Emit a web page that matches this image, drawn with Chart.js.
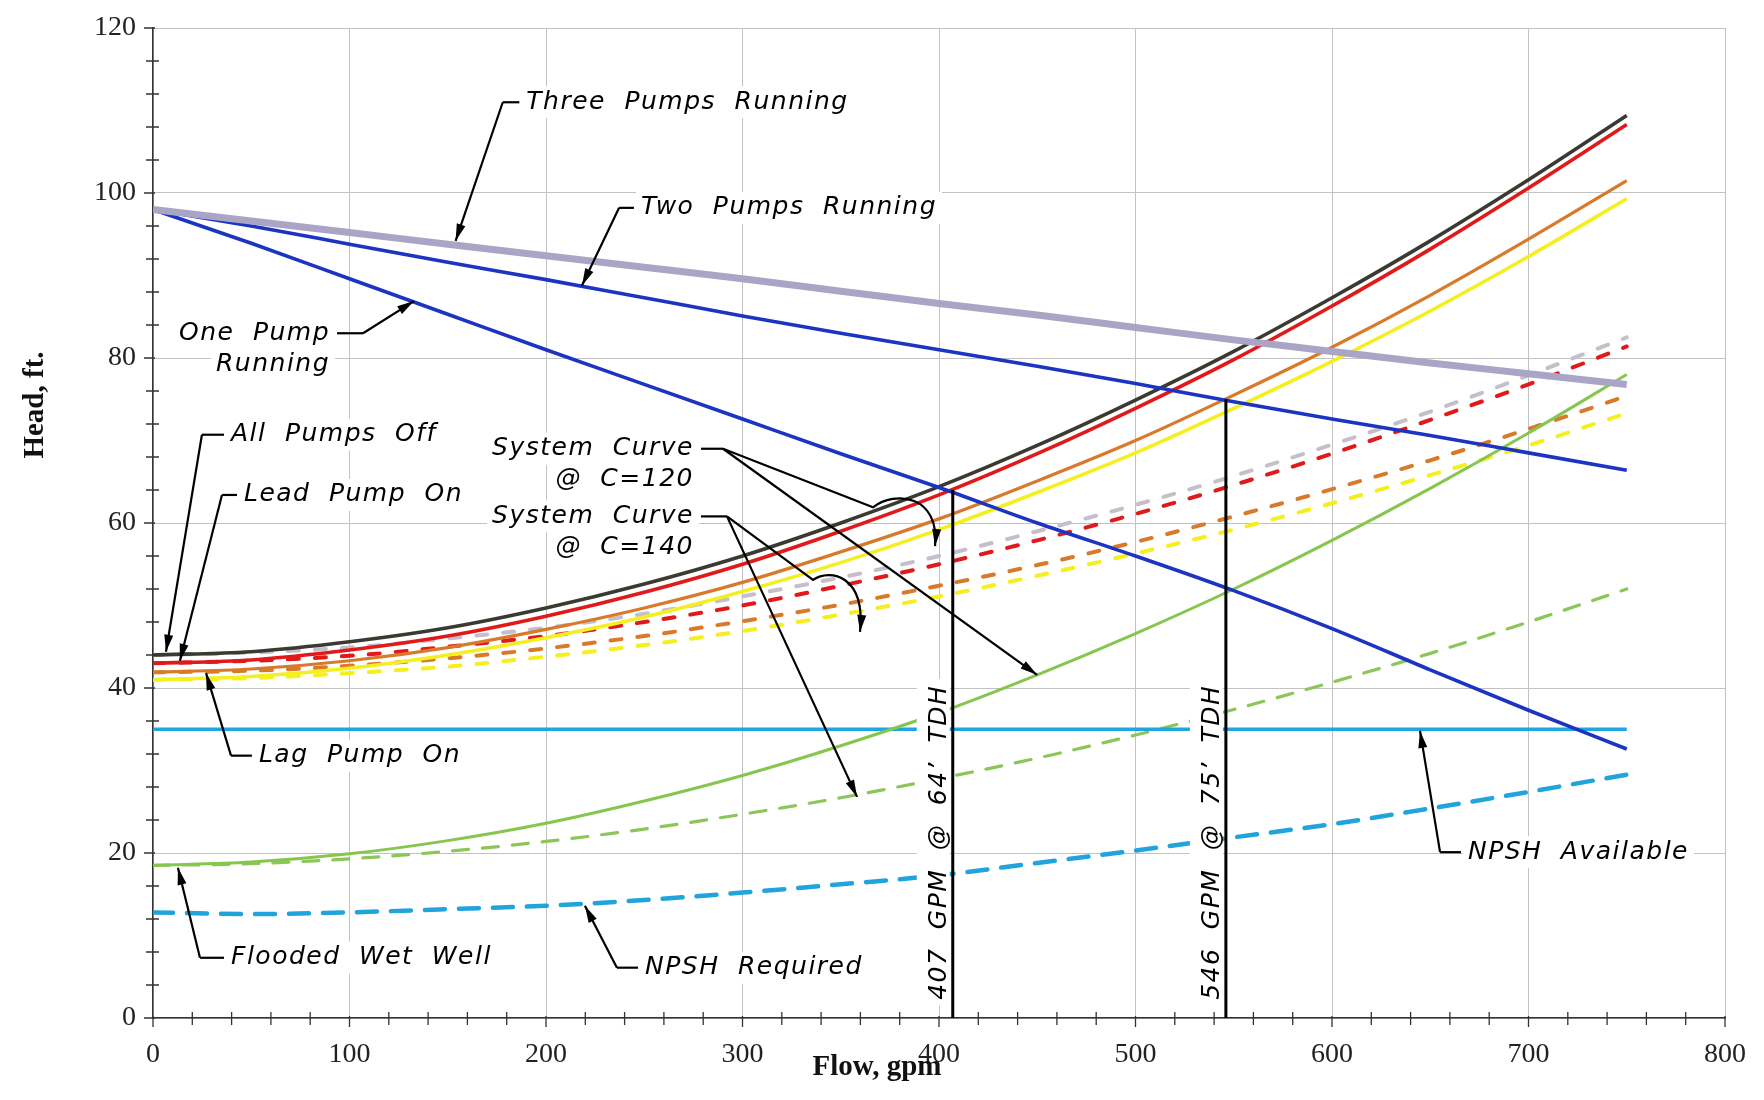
<!DOCTYPE html>
<html>
<head>
<meta charset="utf-8">
<script src="https://cdn.jsdelivr.net/npm/chart.js@4.4.0/dist/chart.umd.min.js"></script>
<style>
  html, body { margin: 0; padding: 0; background: #fff; }
  canvas { display: block; }
</style>
</head>
<body>
<canvas id="pumpChart" width="1764" height="1100"></canvas>
<script>
// === Datos (flow en gpm, head en ft) ===
const flow = [0, 50, 100, 150, 200, 250, 300, 350, 400, 450, 500, 550, 600, 650, 700, 750];

// pump curves
const threePumps = [98.0, 96.6, 95.2, 93.8, 92.4, 91.0, 89.6, 88.1, 86.6, 85.2, 83.7, 82.2, 80.8, 79.4, 78.1, 76.8];
const twoPumps   = [98.0, 96.0, 93.8, 91.6, 89.5, 87.3, 85.1, 83.0, 81.0, 79.0, 76.9, 74.7, 72.6, 70.6, 68.5, 66.4];
const onePump    = [98.0, 93.9, 89.6, 85.3, 81.0, 76.8, 72.6, 68.4, 64.3, 60.0, 56.0, 51.8, 47.2, 42.2, 37.3, 32.6];

// system curves @ C=120 (solid)
const allOff120  = [44.0, 44.4, 45.6, 47.3, 49.7, 52.6, 56.0, 60.0, 64.4, 69.4, 74.9, 80.8, 87.3, 94.2, 101.6, 109.4];
const leadOn120  = [43.0, 43.4, 44.6, 46.3, 48.7, 51.6, 55.0, 59.0, 63.4, 68.4, 73.9, 79.8, 86.3, 93.2, 100.6, 108.3];
const mid120     = [41.9, 42.3, 43.3, 44.9, 47.1, 49.7, 52.8, 56.5, 60.5, 65.1, 70.0, 75.5, 81.3, 87.6, 94.4, 101.5];
const lagOn120   = [41.0, 41.4, 42.4, 44.0, 46.1, 48.6, 51.7, 55.2, 59.2, 63.7, 68.5, 73.9, 79.6, 85.7, 92.3, 99.3];
const flooded120 = [18.5, 18.9, 19.9, 21.5, 23.6, 26.3, 29.4, 33.0, 37.0, 41.6, 46.6, 52.0, 57.9, 64.2, 70.9, 78.0];

// system curves @ C=140 (dashed)
const allOff140  = [44.0, 44.3, 44.9, 46.0, 47.3, 49.0, 51.1, 53.4, 56.0, 59.0, 62.2, 65.7, 69.5, 73.5, 77.9, 82.5];
const leadOn140  = [43.0, 43.3, 43.9, 45.0, 46.3, 48.0, 50.0, 52.4, 55.0, 57.9, 61.1, 64.6, 68.4, 72.5, 76.8, 81.4];
const mid140     = [41.9, 42.1, 42.7, 43.6, 44.8, 46.3, 48.1, 50.1, 52.4, 54.9, 57.7, 60.8, 64.1, 67.6, 71.4, 75.4];
const lagOn140   = [41.0, 41.2, 41.8, 42.6, 43.8, 45.2, 46.9, 48.9, 51.1, 53.6, 56.3, 59.2, 62.4, 65.8, 69.4, 73.3];
const flooded140 = [18.5, 18.7, 19.3, 20.2, 21.4, 22.9, 24.7, 26.7, 29.0, 31.5, 34.3, 37.4, 40.7, 44.2, 48.0, 52.0];

// NPSH
const npshRequired = [12.8, 12.6, 12.8, 13.2, 13.6, 14.3, 15.2, 16.2, 17.3, 18.8, 20.3, 21.9, 23.5, 25.4, 27.4, 29.5];
const npshAvailFlow = [0, 750];
const npshAvail     = [35, 35];

// operating points
const tdhFlow = [407, 546];
const tdhHead = [64, 75];

// axes
const flowTicks = [0, 100, 200, 300, 400, 500, 600, 700, 800];
const headTicks = [0, 20, 40, 60, 80, 100, 120];

const pts = (xs, ys) => xs.map((x, i) => ({ x: x, y: ys[i] }));

function curve(data, color, width, dash, order) {
  return {
    data: data,
    borderColor: color,
    borderWidth: width,
    borderDash: dash || [],
    borderCapStyle: dash ? "round" : "butt",
    pointRadius: 0,
    fill: false,
    cubicInterpolationMode: "monotone",
    order: order
  };
}

const sysDash = [11, 16];

const datasets = [
  // TDH verticals
  curve([{ x: tdhFlow[0], y: 0 }, { x: tdhFlow[0], y: tdhHead[0] }], "#000", 3, null, 0),
  curve([{ x: tdhFlow[1], y: 0 }, { x: tdhFlow[1], y: tdhHead[1] }], "#000", 3, null, 0),
  // pumps
  curve(pts(flow, threePumps), "#aaa4c6", 7, null, 1),
  curve(pts(flow, twoPumps), "#1b34c2", 3.6, null, 1),
  curve(pts(flow, onePump), "#1b34c2", 3.6, null, 1),
  // solid system curves
  curve(pts(flow, allOff120), "#3b3a30", 3.6, null, 2),
  curve(pts(flow, leadOn120), "#e01a1a", 3.6, null, 2),
  curve(pts(flow, mid120), "#d97a2b", 3.2, null, 2),
  curve(pts(flow, lagOn120), "#f4ef1e", 3.6, null, 2),
  curve(pts(flow, flooded120), "#86c64e", 3, null, 2),
  // NPSH
  curve(pts(npshAvailFlow, npshAvail), "#1ea6e0", 3.5, null, 3),
  curve(pts(flow, npshRequired), "#21a3dc", 4.5, [20, 14], 3),
  // dashed system curves
  curve(pts(flow, allOff140), "#c6bfcb", 4, sysDash, 4),
  curve(pts(flow, leadOn140), "#e01a1a", 4, sysDash, 4),
  curve(pts(flow, mid140), "#d97a2b", 4, sysDash, 4),
  curve(pts(flow, lagOn140), "#f4ef1e", 4, sysDash, 4),
  curve(pts(flow, flooded140), "#8cc658", 3.2, [16, 14], 4)
];

// === Anotaciones (en unidades de datos) ===
const notes = [
  { text: ["Three Pumps Running"], x: 190, y: 111, align: "left", elbow: [178, 111], tips: [[154, 94.2]] },
  { text: ["Two Pumps Running"], x: 248.3, y: 98.2, align: "left", elbow: [237.2, 98.2], tips: [[218.3, 88.8]] },
  { text: ["One Pump", "Running"], x: 90.1, y: 83.0, align: "right", elbow: [106.9, 83.0], tips: [[132.8, 86.9]] },
  { text: ["All Pumps Off"], x: 39.7, y: 70.7, align: "left", elbow: [24.9, 70.7], tips: [[6.6, 44.4]] },
  { text: ["Lead Pump On"], x: 46.3, y: 63.4, align: "left", elbow: [35.1, 63.4], tips: [[13.7, 43.3]] },
  { text: ["Lag Pump On"], x: 53.9, y: 31.8, align: "left", elbow: [39.7, 31.8], tips: [[27.0, 41.8]] },
  { text: ["Flooded Wet Well"], x: 39.7, y: 7.3, align: "left", elbow: [23.9, 7.3], tips: [[12.7, 18.2]] },
  { text: ["NPSH Required"], x: 250.4, y: 6.1, align: "left", elbow: [236.1, 6.1], tips: [[219.8, 13.6]] },
  { text: ["NPSH Available"], x: 669.2, y: 20.1, align: "left", elbow: [655, 20.1], tips: [[644.8, 34.8]] },
  { text: ["System Curve", "@ C=120"], x: 275.3, y: 69.0, align: "right", elbow: [290.1, 69.0],
    tips: [{ via: [366.4, 61.9], c1: [377.6, 64.0], c2: [400.5, 63.4], end: [398, 57.2] }, [449.9, 41.6]] },
  { text: ["System Curve", "@ C=140"], x: 275.3, y: 60.8, align: "right", elbow: [292.1, 60.8],
    tips: [{ via: [335.9, 53.1], c1: [344.5, 54.5], c2: [362.8, 53.7], end: [359.8, 46.8] }, [358.3, 26.8]] }
];

function arrowHead(ctx, x0, y0, x1, y1) {
  const a = Math.atan2(y1 - y0, x1 - x0);
  const len = 17, w = 4.5;
  ctx.beginPath();
  ctx.moveTo(x1, y1);
  ctx.lineTo(x1 - len * Math.cos(a) + w * Math.sin(a), y1 - len * Math.sin(a) - w * Math.cos(a));
  ctx.lineTo(x1 - len * Math.cos(a) - w * Math.sin(a), y1 - len * Math.sin(a) + w * Math.cos(a));
  ctx.closePath();
  ctx.fill();
}

const overlay = {
  id: "overlay",
  afterDraw(chart) {
    const ctx = chart.ctx;
    const sx = chart.scales.x, sy = chart.scales.y;
    const px = v => sx.getPixelForValue(v);
    const py = v => sy.getPixelForValue(v);
    const area = chart.chartArea;

    ctx.save();
    // minor / major ticks
    ctx.strokeStyle = "#333";
    ctx.lineWidth = 1.3;
    ctx.beginPath();
    for (let v = 0; v <= 800; v += 20) {
      const x = px(v);
      if (v % 100 === 0) { ctx.moveTo(x, area.bottom - 2); ctx.lineTo(x, area.bottom + 9); }
      else { ctx.moveTo(x, area.bottom - 6); ctx.lineTo(x, area.bottom + 7); }
    }
    for (let v = 0; v <= 120; v += 4) {
      const y = py(v);
      if (v % 20 === 0) { ctx.moveTo(area.left - 9, y); ctx.lineTo(area.left + 2, y); }
      else { ctx.moveTo(area.left - 7, y); ctx.lineTo(area.left + 6, y); }
    }
    ctx.stroke();

    // axis titles
    ctx.fillStyle = "#111";
    ctx.font = 'bold 29px "Liberation Serif"';
    ctx.textAlign = "center";
    ctx.textBaseline = "middle";
    ctx.fillText("Flow, gpm", 877, 1068);
    ctx.save();
    ctx.translate(36, 405);
    ctx.rotate(-Math.PI / 2);
    ctx.fillText("Head, ft.", 0, 0);
    ctx.restore();

    // callouts
    ctx.font = 'italic 25px "DejaVu Sans"';
    ctx.letterSpacing = "1.5px";
    ctx.wordSpacing = "9px";
    ctx.textAlign = "left";
    ctx.textBaseline = "middle";
    ctx.lineWidth = 2.2;
    ctx.strokeStyle = "#000";
    notes.forEach(n => {
      const widths = n.text.map(t => ctx.measureText(t).width);
      n.text.forEach((t, k) => {
        const ty = py(n.y) + k * 31;
        const left = n.align === "left" ? px(n.x) : px(n.x) - widths[k];
        ctx.fillStyle = "#fff";
        ctx.fillRect(left - 5, ty - 16, widths[k] + 10, 32);
        ctx.fillStyle = "#000";
        ctx.fillText(t, left, ty);
      });
      const sx0 = n.align === "left" ? px(n.x) - 7 : px(n.x) + 7;
      const ex = px(n.elbow[0]), ey = py(n.elbow[1]);
      ctx.beginPath();
      ctx.moveTo(sx0, py(n.y));
      ctx.lineTo(ex, ey);
      ctx.stroke();
      n.tips.forEach(t => {
        ctx.beginPath();
        ctx.moveTo(ex, ey);
        if (Array.isArray(t)) {
          ctx.lineTo(px(t[0]), py(t[1]));
          ctx.stroke();
          arrowHead(ctx, ex, ey, px(t[0]), py(t[1]));
        } else {
          ctx.lineTo(px(t.via[0]), py(t.via[1]));
          ctx.bezierCurveTo(px(t.c1[0]), py(t.c1[1]), px(t.c2[0]), py(t.c2[1]), px(t.end[0]), py(t.end[1]));
          ctx.stroke();
          arrowHead(ctx, px(t.c2[0]), py(t.c2[1]), px(t.end[0]), py(t.end[1]));
        }
      });
    });

    // TDH labels
    tdhFlow.forEach((q, i) => {
      const label = q + " GPM @ " + tdhHead[i] + "\u2019 TDH";
      ctx.save();
      ctx.translate(px(q) - 7, py(21.3));
      ctx.rotate(-Math.PI / 2);
      ctx.textAlign = "center";
      ctx.textBaseline = "alphabetic";
      const w = ctx.measureText(label).width;
      ctx.fillStyle = "#fff";
      ctx.fillRect(-w / 2 - 6, -29, w + 12, 33);
      ctx.fillStyle = "#000";
      ctx.fillText(label, 0, 0);
      ctx.restore();
    });
    ctx.restore();
  }
};

new Chart(document.getElementById("pumpChart"), {
  type: "line",
  data: { datasets: datasets },
  options: {
    responsive: false,
    devicePixelRatio: 1,
    animation: false,
    layout: { padding: { left: 0, right: 39, top: 28, bottom: 0 } },
    plugins: { legend: { display: false }, tooltip: { enabled: false } },
    scales: {
      x: {
        type: "linear",
        min: 0, max: 800,
        afterBuildTicks: s => { s.ticks = flowTicks.map(v => ({ value: v })); },
        afterFit: s => { s.height = 82; s.paddingLeft = 0; s.paddingRight = 0; },
        ticks: { color: "#222", padding: 20, maxRotation: 0, font: { family: "Liberation Serif", size: 28 } },
        grid: { color: "#c2c2c2", lineWidth: 1, drawTicks: false },
        border: { color: "#333", width: 1.5 }
      },
      y: {
        type: "linear",
        min: 0, max: 120,
        afterBuildTicks: s => { s.ticks = headTicks.map(v => ({ value: v })); },
        afterFit: s => { s.width = 153; s.paddingTop = 0; s.paddingBottom = 0; },
        ticks: { color: "#222", padding: 17, font: { family: "Liberation Serif", size: 28 } },
        grid: { color: "#c2c2c2", lineWidth: 1, drawTicks: false },
        border: { color: "#333", width: 1.5 }
      }
    }
  },
  plugins: [overlay]
});
</script>
</body>
</html>
